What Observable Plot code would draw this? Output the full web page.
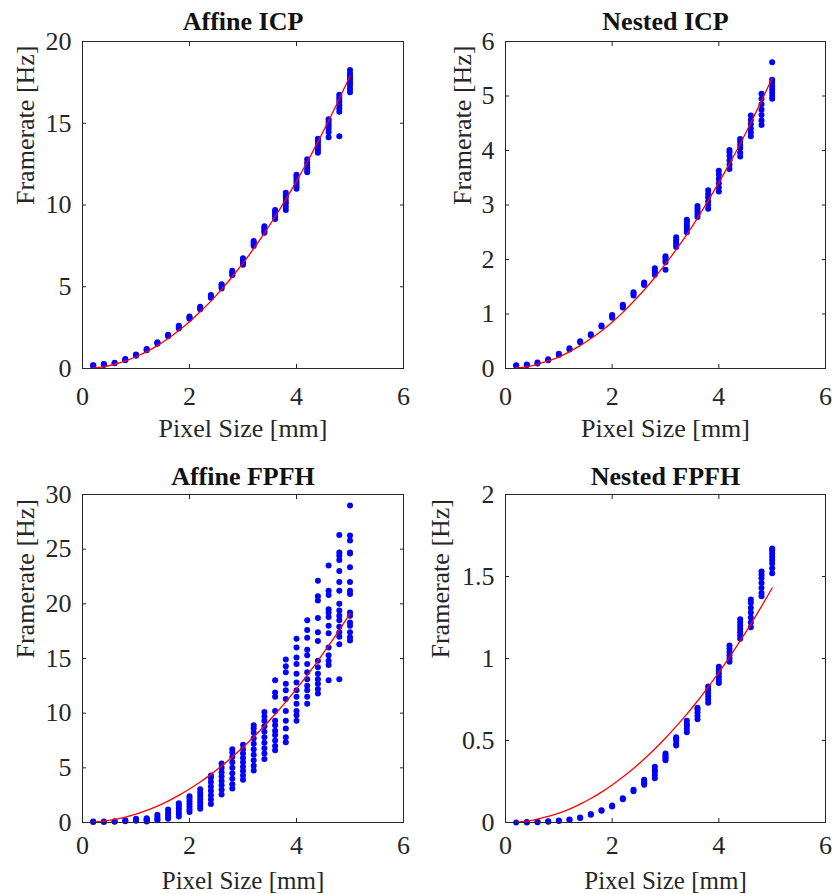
<!DOCTYPE html>
<html>
<head>
<meta charset="utf-8">
<script src="https://cdn.jsdelivr.net/npm/d3@7"></script>
<script src="https://cdn.jsdelivr.net/npm/@observablehq/plot@0.6"></script>
<style>
  html, body { margin: 0; padding: 0; background: #fff; }
  #wrap { position: relative; width: 835px; height: 894px; }
  #wrap svg { position: absolute; left: 0; top: 0; background: transparent; }
</style>
</head>
<body>
<div id="wrap"></div>
<script>
// ---------- data ----------
const pixelSize = [0.2,0.4,0.6,0.8,1.0,1.2,1.4,1.6,1.8,2.0,2.2,2.4,2.6,2.8,3.0,3.2,3.4,3.6,3.8,4.0,4.2,4.4,4.6,4.8,5.0];

const titles = ["Affine ICP", "Nested ICP", "Affine FPFH", "Nested FPFH"];
const xLabel = "Pixel Size [mm]";
const yLabel = "Framerate [Hz]";
const xTicks = [0, 2, 4, 6];
const yTicksAffineICP = [0, 5, 10, 15, 20];
const yTicksNestedICP = [0, 1, 2, 3, 4, 5, 6];
const yTicksAffineFPFH = [0, 5, 10, 15, 20, 25, 30];
const yTicksNestedFPFH = [0, 0.5, 1, 1.5, 2];

// measured framerates (several runs per pixel size)
const affineICP = [
  [0.17,0.19,0.2],[0.22,0.25,0.27],[0.32,0.35],[0.5,0.55,0.58],[0.78,0.82,0.85],
  [1.12,1.16,1.2],[1.52,1.57,1.6],[1.97,2.02,2.06],[2.45,2.55,2.62],[3.05,3.12,3.18],
  [3.62,3.7,3.78],[4.32,4.42,4.5],[4.9,5.0,5.1,5.15],[5.7,5.8,5.88,5.98],[6.35,6.45,6.55,6.65,6.75],
  [7.5,7.6,7.7,7.8],[8.3,8.4,8.5,8.6,8.7],[9.15,9.3,9.4,9.5,9.6,9.7],[9.7,9.9,10.1,10.25,10.45,10.6,10.75],[11.0,11.15,11.3,11.45,11.6,11.75,11.85],
  [12.0,12.15,12.3,12.45,12.6,12.8],[13.2,13.35,13.5,13.65,13.8,13.95,14.05],[14.15,14.45,14.65,14.8,14.95,15.1,15.25],[14.2,15.7,15.9,16.1,16.3,16.45,16.6,16.75],[16.9,17.1,17.3,17.45,17.6,17.75,17.9,18.05,18.25]
];
const nestedICP = [
  [0.05,0.06],[0.06,0.075],[0.09,0.11],[0.15,0.17],[0.25,0.27],
  [0.35,0.37],[0.48,0.5],[0.61,0.63],[0.77,0.79],[0.93,0.96,0.98],
  [1.12,1.15,1.17],[1.34,1.37,1.4],[1.53,1.56,1.58],[1.72,1.76,1.8,1.84],[1.81,1.95,1.99,2.03,2.06],
  [2.23,2.28,2.32,2.36,2.41],[2.5,2.55,2.6,2.65,2.7,2.73],[2.78,2.83,2.88,2.93,2.98],[2.93,3.0,3.07,3.14,3.2,3.27],[3.25,3.32,3.4,3.48,3.56,3.63],
  [3.66,3.74,3.82,3.9,3.97,4.01],[3.89,3.96,4.04,4.1,4.16,4.21],[4.26,4.33,4.4,4.48,4.56,4.64],[4.47,4.55,4.65,4.75,4.85,4.95,5.04],[4.95,5.0,5.06,5.12,5.18,5.25,5.3,5.62]
];
const affineFPFH = [
  [0.05,0.1],[0.05,0.1],[0.08,0.12],[0.12,0.2],[0.15,0.25,0.35],
  [0.1,0.2,0.3,0.4],[0.2,0.35,0.5,0.7],[0.35,0.55,0.75,0.95,1.2],[0.55,0.8,1.05,1.3,1.55,1.75],[0.95,1.2,1.45,1.7,1.95,2.2,2.4],
  [1.25,1.55,1.85,2.15,2.45,2.75,3.05],[1.7,2.1,2.5,2.9,3.3,3.7,4.1,4.3],[2.55,3.0,3.4,3.8,4.2,4.6,5.0,5.4],[3.1,3.5,4.0,4.5,5.0,5.5,6.0,6.4,6.7],[3.9,4.3,4.7,5.1,5.5,5.9,6.3,6.7,7.1],
  [4.75,5.2,5.7,6.2,6.7,7.2,7.7,8.2,8.6,8.9],[5.8,6.3,6.8,7.3,7.8,8.3,8.8,9.3,9.7,10.1],[13.0,11.9,11.5,10.2,9.3,8.9,8.4,8.0,7.5,7.0,6.6],[14.9,14.3,13.75,12.7,12.1,11.3,10.2,9.3,8.6,7.8,7.35],[16.8,16.0,15.1,14.5,13.6,12.8,12.1,11.5,10.85,10.2,9.8,9.3],
  [18.5,17.6,16.9,15.8,15.3,14.5,13.75,13.1,12.5,12.1,11.5,10.85],[22.1,20.7,20.3,18.7,17.4,16.6,14.8,14.2,13.6,13.1,12.7,12.2,11.8],[23.5,21.2,20.8,19.5,19.2,18.8,18.0,17.3,16.0,15.3,14.8,14.4,13.0],[26.3,24.7,24.4,24.0,23.0,22.0,21.2,20.0,19.4,18.9,18.5,17.9,17.4,17.0,16.3,13.1],[29.0,26.25,25.8,24.7,24.6,23.35,22.0,21.2,20.9,19.2,18.9,18.3,18.0,17.4,16.95,16.65]
];
const nestedFPFH = [
  [0.0],[0.0,0.003],[0.002,0.004],[0.005,0.007],[0.009,0.012],
  [0.015,0.018],[0.027,0.03],[0.048,0.052],[0.071,0.075],[0.098,0.103],
  [0.142,0.148],[0.19,0.2],[0.23,0.24,0.25,0.26],[0.27,0.29,0.31,0.32,0.34],[0.38,0.39,0.4,0.41,0.42],
  [0.47,0.48,0.5,0.51,0.52],[0.55,0.57,0.59,0.6,0.62],[0.63,0.65,0.67,0.69,0.7],[0.73,0.75,0.77,0.79,0.81,0.83],[0.85,0.87,0.89,0.91,0.93,0.95],
  [0.98,1.0,1.02,1.04,1.06,1.08],[1.12,1.14,1.16,1.18,1.2,1.22,1.24],[1.19,1.22,1.25,1.28,1.31,1.34,1.36],[1.38,1.4,1.43,1.46,1.49,1.51,1.53],[1.52,1.55,1.58,1.6,1.62,1.64,1.66,1.67]
];

// fitted curves (values at each pixel size)
const fitAffineICP = [0.03,0.11,0.26,0.46,0.72,1.03,1.40,1.83,2.32,2.86,3.47,4.12,4.84,5.61,6.44,7.33,8.28,9.28,10.34,11.46,12.63,13.86,15.15,16.50,17.90];
const fitNestedICP = [0.01,0.03,0.08,0.14,0.21,0.31,0.42,0.55,0.69,0.85,1.03,1.23,1.44,1.67,1.92,2.18,2.46,2.76,3.08,3.41,3.76,4.12,4.51,4.91,5.33];
const fitAffineFPFH = [0.03,0.12,0.28,0.49,0.76,1.10,1.50,1.96,2.48,3.06,3.70,4.40,5.16,5.99,6.88,7.82,8.83,9.90,11.03,12.22,13.48,14.79,16.17,17.60,19.10];
const fitNestedFPFH = [0.002,0.009,0.021,0.037,0.057,0.082,0.112,0.146,0.185,0.229,0.277,0.329,0.387,0.448,0.515,0.586,0.661,0.741,0.826,0.915,1.009,1.107,1.210,1.318,1.430];

// ---------- drawing ----------
const W = 835, H = 894;
const axisColor = "#262626";
const font = "'Liberation Serif', 'Times New Roman', Times, serif";

const panels = [
  {title: titles[0], runs: affineICP, fit: fitAffineICP, yTicks: yTicksAffineICP, frame: [82, 403, 41, 368], yLabelDx: -57, titleDy: -20, xTickPad: 18, xLabelDy: 60, xLabelSize: 26},
  {title: titles[1], runs: nestedICP, fit: fitNestedICP, yTicks: yTicksNestedICP, frame: [505, 825, 41, 368], yLabelDx: -43, titleDy: -20, xTickPad: 18, xLabelDy: 60, xLabelSize: 26},
  {title: titles[2], runs: affineFPFH, fit: fitAffineFPFH, yTicks: yTicksAffineFPFH, frame: [82, 403, 494, 822], yLabelDx: -57, titleDy: -18, xTickPad: 13, xLabelDy: 58, xLabelSize: 25},
  {title: titles[3], runs: nestedFPFH, fit: fitNestedFPFH, yTicks: yTicksNestedFPFH, frame: [505, 825, 494, 822], yLabelDx: -65, titleDy: -18, xTickPad: 13, xLabelDy: 58, xLabelSize: 25}
];

const wrap = document.getElementById("wrap");

for (const p of panels) {
  const [l, r, t, b] = p.frame;
  const points = [];
  p.runs.forEach((vals, i) => vals.forEach(v => points.push({x: pixelSize[i], y: v})));
  const curve = p.fit.map((v, i) => ({x: pixelSize[i], y: v}));
  const yMax = p.yTicks[p.yTicks.length - 1];

  const chart = Plot.plot({
    width: W,
    height: H,
    marginLeft: l,
    marginRight: W - r,
    marginTop: t,
    marginBottom: H - b,
    style: {fontFamily: font, fontSize: "26px", color: axisColor, background: "transparent"},
    x: {domain: [0, 6]},
    y: {domain: [0, yMax]},
    marks: [
      Plot.dot(points, {x: "x", y: "y", r: 3, fill: "#0000ff", stroke: null}),
      Plot.line(curve, {x: "x", y: "y", stroke: "#ff0000", strokeWidth: 1.3, curve: "natural"}),
      Plot.frame({stroke: axisColor, strokeWidth: 1}),
      // inward ticks on all four sides
      Plot.axisX({anchor: "bottom", ticks: xTicks, tickSize: -4, stroke: axisColor, fill: "none", label: null}),
      Plot.axisX({anchor: "top", ticks: xTicks, tickSize: -4, stroke: axisColor, fill: "none", label: null}),
      Plot.axisY({anchor: "left", ticks: p.yTicks, tickSize: -4, stroke: axisColor, fill: "none", label: null}),
      Plot.axisY({anchor: "right", ticks: p.yTicks, tickSize: -4, stroke: axisColor, fill: "none", label: null}),
      // tick labels
      Plot.axisX({anchor: "bottom", ticks: xTicks, tickSize: 0, tickPadding: p.xTickPad, fill: axisColor, label: null, tickFormat: d => String(d), fontFamily: font}),
      Plot.axisY({anchor: "left", ticks: p.yTicks, tickSize: 0, tickPadding: 11, fill: axisColor, label: null, tickFormat: d => String(d), fontFamily: font}),
      // axis titles
      Plot.text([xLabel], {frameAnchor: "bottom", dy: p.xLabelDy, lineAnchor: "middle", text: d => d, fill: axisColor, fontFamily: font, fontSize: p.xLabelSize}),
      Plot.text([yLabel], {frameAnchor: "left", dx: p.yLabelDx, rotate: -90, lineAnchor: "middle", text: d => d, fill: axisColor, fontFamily: font}),
      Plot.text([p.title], {frameAnchor: "top", dy: p.titleDy, lineAnchor: "middle", text: d => d, fill: "#111", fontWeight: "bold", fontFamily: font})
    ]
  });
  wrap.appendChild(chart);
}
</script>
</body>
</html>
